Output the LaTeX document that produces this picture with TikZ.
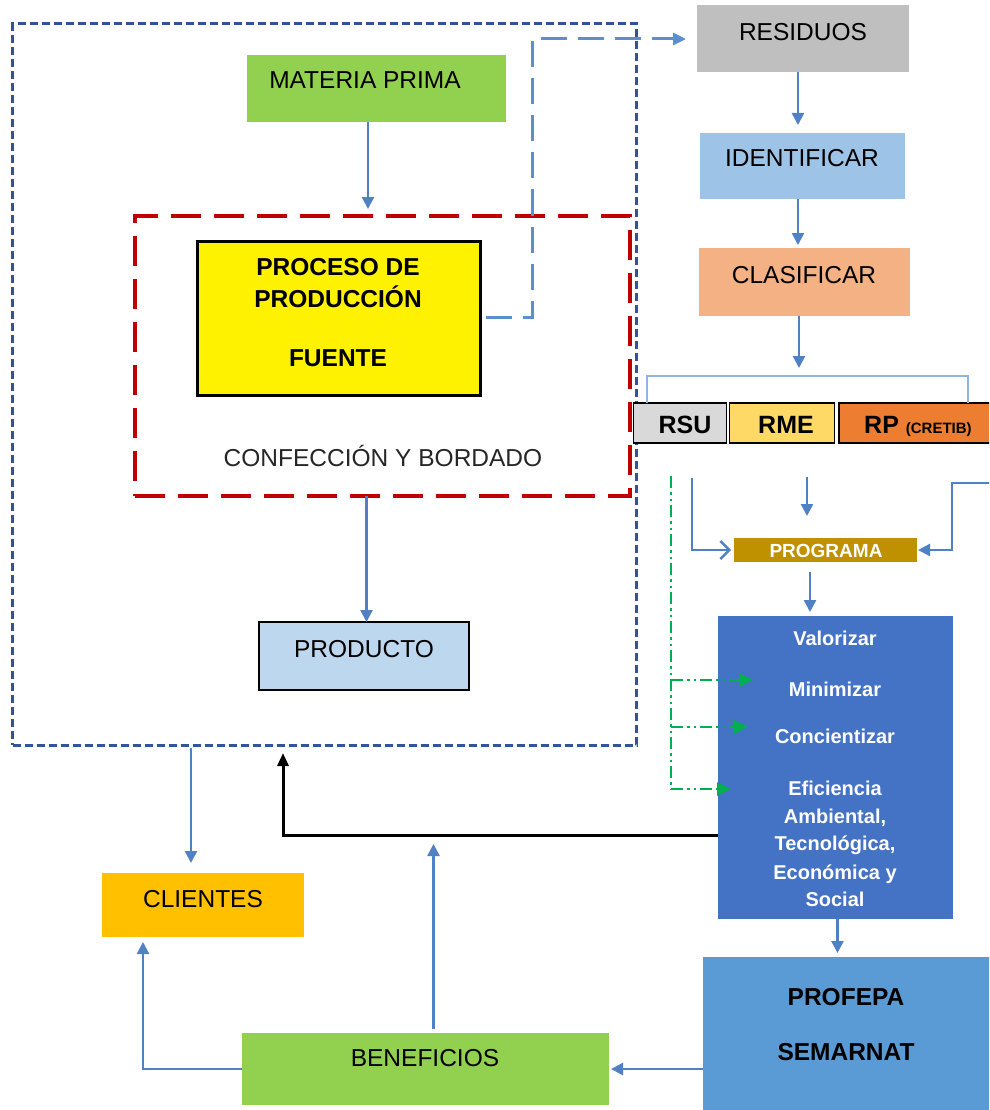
\documentclass[tikz,border=0pt]{standalone}
\usepackage{fontspec}
\setmainfont{Liberation Sans}
\usetikzlibrary{arrows.meta}
\definecolor{arrc}{HTML}{4F81C4}
\definecolor{ldash}{HTML}{5B8FD0}
\definecolor{odash}{HTML}{2F5597}
\definecolor{rdash}{HTML}{C00000}
\definecolor{ggreen}{HTML}{00B050}
\definecolor{mpg}{HTML}{92D050}
\definecolor{resg}{HTML}{BFBFBF}
\definecolor{identc}{HTML}{9DC3E6}
\definecolor{clasc}{HTML}{F4B183}
\definecolor{rsuc}{HTML}{D9D9D9}
\definecolor{rmec}{HTML}{FFD966}
\definecolor{rpc}{HTML}{ED7D31}
\definecolor{progc}{HTML}{BF9000}
\definecolor{bluec}{HTML}{4472C4}
\definecolor{profc}{HTML}{5B9BD5}
\definecolor{clic}{HTML}{FFC000}
\definecolor{prodc}{HTML}{BDD7EE}
\definecolor{brkc}{HTML}{8FB4E0}
\begin{document}
\begin{tikzpicture}[x=1pt,y=-1pt,
  box/.style={rectangle, inner sep=0pt, outer sep=0pt},
  lbl/.style={font=\fontsize{24.5}{28}\selectfont, inner sep=0pt, anchor=base},
  blbl/.style={font=\bfseries\fontsize{24.5}{28}\selectfont, inner sep=0pt, anchor=base},
  wlbl/.style={text=white, font=\bfseries\fontsize{20}{24}\selectfont, inner sep=0pt, anchor=base},
  arr/.style={draw=arrc, line width=2.4pt, -{Triangle[length=12pt,width=12pt]}},
  arropen/.style={draw=arrc, line width=2.4pt, -{Straight Barb[length=9pt,width=18pt,line width=2.4pt]}},
  blk/.style={draw=black, line width=3pt, -{Triangle[length=13pt,width=11pt]}},
  gdash/.style={draw=ggreen, line width=2.5pt, dash pattern=on 12pt off 4pt on 2.5pt off 4pt on 2.5pt off 4pt},
  garr/.style={gdash, -{Triangle[length=14pt,width=13pt]}}
]
\clip (0,0) rectangle (989,1110);

% outer dashed frame
\node[box, draw=odash, line width=3pt, dash pattern=on 8pt off 4pt, minimum width=624pt, minimum height=721pt] (outer) at (324.5,384.5) {};

% materia prima
\node[box, fill=mpg, minimum width=259pt, minimum height=67pt] (mp) at (376.5,88.5) {};
\node[lbl] (mpT) at (365,89) {MATERIA PRIMA};

% red dashed confeccion frame
\node[box, draw=rdash, line width=3.3pt, dash pattern=on 30pt off 13pt, minimum width=495pt, minimum height=280pt] (conf) at (382.5,356) {};
\node[lbl, text=black!85] (confT) at (383,466) {CONFECCIÓN Y BORDADO};

% fuente
\node[box, fill=yellow, draw=black, line width=3.5pt, minimum width=283pt, minimum height=154pt] (fuente) at (339,318.5) {};
\node[blbl] (f1) at (338,275) {PROCESO DE};
\node[blbl] (f2) at (338,307) {PRODUCCIÓN};
\node[blbl] (f3) at (338,366) {FUENTE};

% producto
\node[box, fill=prodc, draw=black, line width=1.8pt, minimum width=210pt, minimum height=68pt] (prod) at (364,656) {};
\node[lbl] (prodT) at (364,657) {PRODUCTO};

% right column
\node[box, fill=resg, minimum width=212pt, minimum height=67pt] (res) at (803,38.5) {};
\node[lbl] (resT) at (803,41) {RESIDUOS};
\node[box, fill=identc, minimum width=205pt, minimum height=66pt] (ident) at (802.5,166) {};
\node[lbl] (identT) at (802,167) {IDENTIFICAR};
\node[box, fill=clasc, minimum width=211pt, minimum height=68pt] (clas) at (804.5,282) {};
\node[lbl] (clasT) at (804,283) {CLASIFICAR};

% category row
\node[box, fill=rsuc, draw=black, line width=1.8pt, minimum width=93pt, minimum height=40pt] (rsu) at (680,423) {};
\node[box, fill=rmec, draw=black, line width=1.8pt, minimum width=105pt, minimum height=40pt] (rme) at (782,423) {};
\node[box, fill=rpc, draw=black, line width=1.8pt, minimum width=160pt, minimum height=40pt] (rp) at (919,423) {};
\node[font=\bfseries\fontsize{25}{28}\selectfont, inner sep=0pt, anchor=base] (rsuT) at (685,433) {RSU};
\node[font=\bfseries\fontsize{25}{28}\selectfont, inner sep=0pt, anchor=base] (rmeT) at (786,433) {RME};
\node[font=\bfseries\fontsize{25}{28}\selectfont, inner sep=0pt, anchor=base west] (rpT) at (864,433) {RP {\fontsize{15}{18}\selectfont (CRETIB)}};

% bracket
\coordinate (brL) at (647,376);
\coordinate (brR) at (968,376);
\draw[draw=brkc, line width=2.4pt] (brL |- rsu.north) -- (brL) -- (brR) -- (brR |- rp.north);

% programa
\node[box, fill=progc, minimum width=183pt, minimum height=24pt] (prog) at (825.5,550) {};
\node[text=white, font=\bfseries\fontsize{19}{22}\selectfont, inner sep=0pt, anchor=base] (progT) at (826,557) {PROGRAMA};

% blue actions box
\node[box, fill=bluec, minimum width=235pt, minimum height=303pt] (blue) at (835.5,767.5) {};
\node[wlbl] (val) at (835,645) {Valorizar};
\node[wlbl] (mini) at (835,696) {Minimizar};
\node[wlbl] (conc) at (835,743) {Concientizar};
\node[wlbl] (efi1) at (835,795) {Eficiencia};
\node[wlbl] (efi2) at (835,823) {Ambiental,};
\node[wlbl] (efi3) at (835,850) {Tecnológica,};
\node[wlbl] (efi4) at (835,879) {Económica y};
\node[wlbl] (efi5) at (835,906) {Social};

% profepa
\node[box, fill=profc, minimum width=292pt, minimum height=160pt] (prof) at (849,1037) {};
\node[blbl] (profT1) at (846,1005) {PROFEPA};
\node[blbl] (profT2) at (846,1060) {SEMARNAT};

% clientes / beneficios
\node[box, fill=clic, minimum width=202pt, minimum height=64pt] (cli) at (203,905) {};
\node[lbl] (cliT) at (203,907) {CLIENTES};
\node[box, fill=mpg, minimum width=367pt, minimum height=72pt] (ben) at (425.5,1069) {};
\node[lbl] (benT) at (425,1066) {BENEFICIOS};

% ---- connectors ----
\draw[arr, shorten >=7pt] ([xshift=-8.5pt]mp.south) -- ([xshift=-8.5pt]mp.south |- conf.north);
\draw[arr] ([xshift=-16pt]conf.south) -- ([xshift=-16pt]conf.south |- prod.north);

\coordinate (jog) at (532,39);
\draw[draw=ldash, line width=3pt, dash pattern=on 26pt off 11pt, shorten <=5pt, shorten >=11pt, -{Triangle[length=13pt,width=12pt]}]
  ([yshift=1.5pt]fuente.east) -- ([yshift=1.5pt]fuente.east -| jog) -- (jog) -- (jog -| res.west);

\draw[arr, shorten >=8pt] ([xshift=-5pt]res.south) -- ([xshift=-5pt]res.south |- ident.north);
\draw[arr, shorten >=3pt] ([xshift=-4.5pt]ident.south) -- ([xshift=-4.5pt]ident.south |- clas.north);
\draw[arr, shorten >=8pt] ([xshift=-5.5pt]clas.south) -- ([xshift=-5.5pt]clas.south |- brL);

\coordinate (sL) at (692,478);
\draw[arropen, shorten >=3pt] (sL) |- (prog.west);
\coordinate (sM) at (807,477);
\coordinate (eM) at (807,516);
\draw[arr] (sM) -- (eM);
\coordinate (sR) at (995,483);
\coordinate (kR) at (952,483);
\draw[arr, shorten >=1pt] (sR) -- (kR) |- (prog.east);

\draw[arr, shorten <=10pt, shorten >=4pt] ([xshift=-15.5pt]prog.south) -- ([xshift=-15.5pt]prog.south |- blue.north);

% green dash-dot
\coordinate (gT) at (671,476);
\coordinate (g1) at (671,680);
\coordinate (g2) at (671,727);
\coordinate (g3) at (671,789);
\coordinate (e1) at (753,680);
\coordinate (e2) at (748,727);
\coordinate (e3) at (731,789);
\draw[gdash] (gT) -- (g3);
\draw[garr] (g1) -- (e1);
\draw[garr] (g2) -- (e2);
\draw[garr] (g3) -- (e3);

% black feedback arrow
\coordinate (bk) at (283,835);
\draw[blk, shorten >=8pt] (blue.west |- bk) -- (bk) -- (bk |- outer.south);

\draw[arr, shorten <=3pt, shorten >=10pt] ([xshift=-12pt]cli.north |- outer.south) -- ([xshift=-12pt]cli.north);
\draw[arr, shorten <=4pt, shorten >=9pt] ([xshift=8pt]ben.north) -- ([xshift=8pt]ben.north |- bk);
\draw[arr, shorten >=5pt] (ben.west) -| ([xshift=-60pt]cli.south);
\draw[arr, shorten >=2pt] (prof.west |- ben.east) -- (ben.east);
\draw[arr, shorten >=4pt] ([xshift=2pt]blue.south) -- ([xshift=2pt]blue.south |- prof.north);
\end{tikzpicture}
\end{document}
